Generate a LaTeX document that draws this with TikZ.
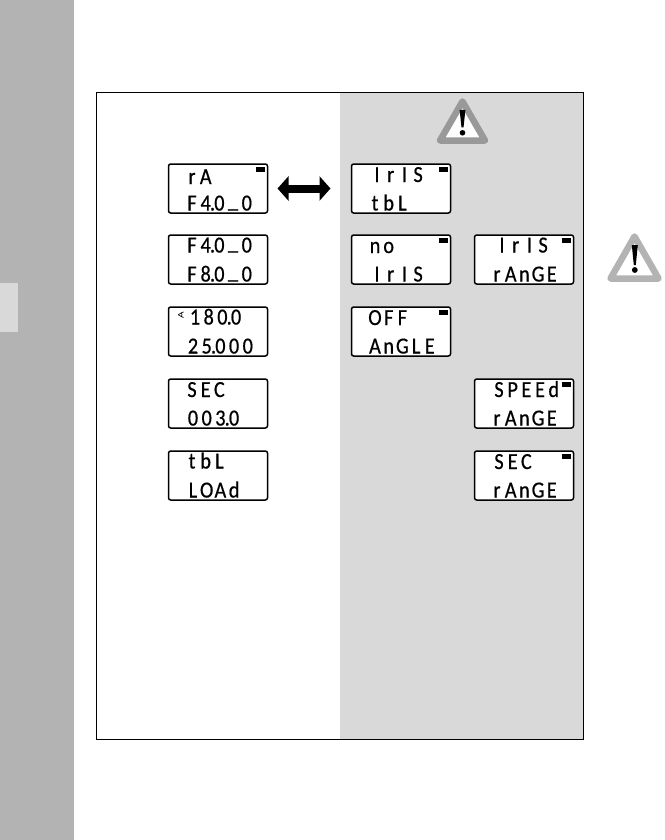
\documentclass[tikz,border=0pt]{standalone}
\usepackage{fontspec}
\usetikzlibrary{arrows.meta}
\newfontfamily\segfont[FakeStretch=0.88,FakeBold=0.6]{Carlito}
\newfontfamily\symfont{DejaVu Sans}
\definecolor{bandgray}{HTML}{B3B3B3}
\definecolor{panelgray}{HTML}{D9D9D9}
\definecolor{warngray}{HTML}{999999}
\newdimen\segcell \segcell=13.7pt
\makeatletter
\def\segtext#1{\segloop#1\relax}
\def\segloop#1{\ifx#1\relax\else
  \ifx#1.\hbox to 0pt{\hss.\hss}\else
  \ifx#1*\hbox to \segcell{\hss}\else
  \ifx#1\_\hbox to \segcell{\hss\raisebox{3pt}{\_}\hss}\else
  \hbox to \segcell{\hss#1\hss}\fi\fi\fi
  \expandafter\segloop\fi}
\makeatother
\tikzset{
  x=1pt,y=-1pt,
  lcdbox/.style={draw=black,line width=1.5pt,fill=white,rounded corners=2.2pt,minimum width=99pt,minimum height=49pt,inner sep=0pt,outer sep=0pt},
  lcdline/.style={anchor=base west,inner sep=0pt,outer sep=0pt,font=\segfont\fontsize{23}{23}\selectfont},
  lcdflag/.style={fill=black,draw=none,inner sep=0pt,minimum width=9pt,minimum height=5pt},
  warnicon/.style={line width=6.5pt,line join=round,fill=white},
}
% name, left, top, top-line first cell centre, top baseline, top text, bottom first cell centre, bottom text
\newcommand\lcd[8]{%
  \node[lcdbox] (#1) at ({#2+50},{#3+24.5}) {};
  \node[lcdline] (#1-top) at ({#2+#4-6.85},{#3+#5}) {\segtext{#6}};
  \node[lcdline] (#1-bot) at ({#2+#7-6.85},{#3+46.5}) {\segtext{#8}};
}
\newcommand\flagon[3]{\node[lcdflag] (#1-flag) at ({#2+92},{#3+5.3}) {};}
\begin{document}
\begin{tikzpicture}
\useasboundingbox (0,0) rectangle (664,840);
\fill[white] (0,0) rectangle (664,840);
\fill[bandgray] (0,0) rectangle (74,840);
\fill[panelgray] (0,283) rectangle (18,332);
\fill[panelgray] (340,93) rectangle (583,739);
\draw[black,line width=1pt] (96.5,93) rectangle (583,739);

% warning icons
\draw[warnicon,draw=warngray] (462.5,101.5) -- (485,140.5) -- (440,140.5) -- cycle;
\fill[black] (459.6,110) -- (465.4,110) -- (463.5,127.5) -- (461.5,127.5) -- cycle;
\fill[black] (462.5,132.8) circle (2.8);
\draw[warnicon,draw=bandgray] (634.5,236.5) -- (658.5,278.5) -- (610.5,278.5) -- cycle;
\fill[black] (631.8,245) -- (637.8,245) -- (635.8,265) -- (633.8,265) -- cycle;
\fill[black] (634.8,270) circle (2.9);

% left column
\lcd{ra}{168}{164}{24}{20}{rA}{24}{F4.0\_0}
\flagon{ra}{168}{164}
\lcd{range}{168}{235}{24}{17.5}{F4.0\_0}{24}{F8.0\_0}
\lcd{ang}{168}{307}{27}{17.5}{180.0}{25}{25.000}
\node[font=\symfont\fontsize{9}{9}\selectfont,inner sep=0pt] (angsym) at (181,315) {∢};
\lcd{sec}{168}{379}{24}{18}{SEC}{25}{003.0}
\lcd{load}{168}{451}{24}{17.5}{tbL}{25}{LOAd}

% right column 1
\lcd{iristbl}{351}{164}{26}{18}{IrIS}{24}{tbL}
\flagon{iristbl}{351}{164}
\lcd{noiris}{351}{235}{24}{18}{no}{26}{IrIS}
\flagon{noiris}{351}{235}
\lcd{offangle}{351}{307}{24}{18}{OFF}{24}{AnGLE}
\flagon{offangle}{351}{307}

% right column 2
\lcd{irisrange}{474}{235}{28}{17.5}{IrIS}{23}{rAnGE}
\flagon{irisrange}{474}{235}
\lcd{speedrange}{474}{379}{25}{18}{SPEEd}{23}{rAnGE}
\flagon{speedrange}{474}{379}
\lcd{secrange}{474}{451}{25}{18}{SEC}{23}{rAnGE}
\flagon{secrange}{474}{451}

% double arrow
\draw[line width=8pt,{Triangle[length=11pt,width=24pt]}-{Triangle[length=11pt,width=24pt]},shorten <=10pt,shorten >=21pt] (ra.east) -- (iristbl.west);
\end{tikzpicture}
\end{document}
